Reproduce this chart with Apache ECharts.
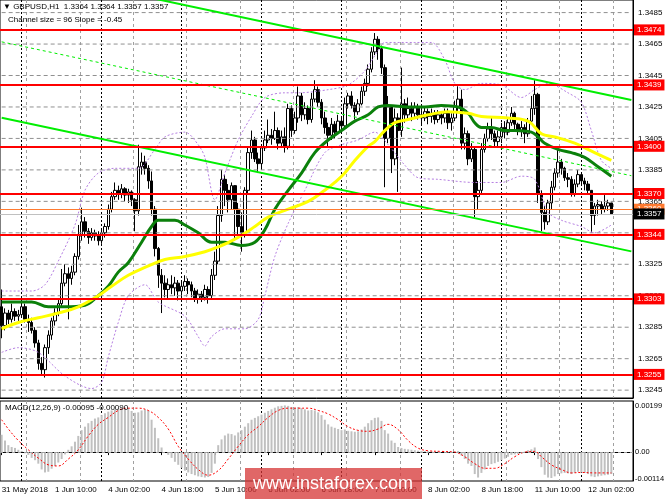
<!DOCTYPE html>
<html>
<head>
<meta charset="utf-8">
<script src="https://cdn.jsdelivr.net/npm/echarts@6.0.0/dist/echarts.min.js"></script>
<style>
html, body { margin: 0; padding: 0; background: #fff; }
#chart { width: 665px; height: 499px; }
</style>
</head>
<body>
<div id="chart"></div>
<script>
var FONT = '"Liberation Sans", "DejaVu Sans", sans-serif';

// time axis labels, one every 16 bars
var tickLabels = ['31 May 2018', '1 Jun 10:00', '4 Jun 02:00', '4 Jun 18:00', '5 Jun 10:00', '6 Jun 02:00',
    '6 Jun 18:00', '7 Jun 10:00', '8 Jun 02:00', '8 Jun 18:00', '11 Jun 10:00', '12 Jun 02:00'];

// H1 candles (open = previous close)
var firstOpen = 1.3298;
var closes = [
    1.3286, 1.3294, 1.3290, 1.3295, 1.3292, 1.3293, 1.3298, 1.3290, 1.3288, 1.3283,
    1.3275, 1.3262, 1.3258, 1.3272, 1.3280, 1.3289, 1.3294, 1.3300, 1.3313, 1.3319,
    1.3316, 1.3320, 1.3330, 1.3344, 1.3352, 1.3346, 1.3342, 1.3345, 1.3343, 1.3340,
    1.3345, 1.3349, 1.3360, 1.3368, 1.3372, 1.3370, 1.3373, 1.3369, 1.3371, 1.3366,
    1.3359, 1.3387, 1.3390, 1.3386, 1.3378, 1.3360, 1.3335, 1.3318, 1.3313, 1.3309,
    1.3312, 1.3310, 1.3313, 1.3308, 1.3311, 1.3314, 1.3312, 1.3308, 1.3303, 1.3306,
    1.3304, 1.3309, 1.3305, 1.3318, 1.3327, 1.3356, 1.3379, 1.3372, 1.3366, 1.3375,
    1.3360, 1.3349, 1.3345, 1.3372, 1.3396, 1.3404, 1.3392, 1.3389, 1.3399, 1.3404,
    1.3407, 1.3405, 1.3410, 1.3402, 1.3406, 1.3400, 1.3424, 1.3410, 1.3418, 1.3432,
    1.3420, 1.3424, 1.3417, 1.3430, 1.3436, 1.3428, 1.3418, 1.3412, 1.3407, 1.3414,
    1.3409, 1.3416, 1.3413, 1.3427, 1.3432, 1.3426, 1.3422, 1.3427, 1.3435, 1.3440,
    1.3449, 1.3460, 1.3468, 1.3462, 1.3450, 1.3405, 1.3425, 1.3392, 1.3418, 1.3410,
    1.3427, 1.3420, 1.3424, 1.3421, 1.3425, 1.3420, 1.3418, 1.3422, 1.3419, 1.3421,
    1.3417, 1.3420, 1.3418, 1.3421, 1.3415, 1.3418, 1.3425, 1.3430, 1.3402, 1.3408,
    1.3392, 1.3398, 1.3368, 1.3372, 1.3398, 1.3405, 1.3411, 1.3408, 1.3403, 1.3406,
    1.3412, 1.3409, 1.3415, 1.3421, 1.3414, 1.3410, 1.3412, 1.3408, 1.3416, 1.3424,
    1.3433, 1.3370, 1.3358, 1.3352, 1.3364, 1.3374, 1.3383, 1.3390, 1.3386, 1.3380,
    1.3379, 1.3370, 1.3376, 1.3382, 1.3378, 1.3376, 1.3372, 1.3356, 1.3362, 1.3363,
    1.3360, 1.3362, 1.3364, 1.3357
];
var highs = [
    1.3309, 1.3297, 1.3296, 1.3300, 1.3297, 1.3296, 1.3303, 1.3300, 1.3293, 1.3291,
    1.3285, 1.3277, 1.3266, 1.3274, 1.3283, 1.3291, 1.3297, 1.3303, 1.3322, 1.3325,
    1.3323, 1.3324, 1.3332, 1.3350, 1.3361, 1.3355, 1.3348, 1.3348, 1.3347, 1.3346,
    1.3347, 1.3351, 1.3363, 1.3371, 1.3377, 1.3375, 1.3376, 1.3374, 1.3373, 1.3372,
    1.3367, 1.3401, 1.3396, 1.3394, 1.3388, 1.3384, 1.3362, 1.3336, 1.3322, 1.3318,
    1.3316, 1.3318, 1.3317, 1.3315, 1.3314, 1.3318, 1.3316, 1.3314, 1.3310, 1.3309,
    1.3308, 1.3312, 1.3311, 1.3322, 1.3333, 1.3362, 1.3385, 1.3382, 1.3376, 1.3377,
    1.3373, 1.3364, 1.3358, 1.3374, 1.3400, 1.3410, 1.3406, 1.3396, 1.3401, 1.3410,
    1.3417, 1.3411, 1.3422, 1.3412, 1.3410, 1.3412, 1.3427, 1.3426, 1.3422, 1.3438,
    1.3434, 1.3428, 1.3426, 1.3434, 1.3442, 1.3438, 1.3430, 1.3422, 1.3415, 1.3418,
    1.3416, 1.3420, 1.3419, 1.3431, 1.3434, 1.3435, 1.3428, 1.3430, 1.3438, 1.3443,
    1.3452, 1.3463, 1.3472, 1.3470, 1.3464, 1.3452, 1.3432, 1.3424, 1.3424, 1.3421,
    1.3450, 1.3430, 1.3431, 1.3428, 1.3428, 1.3427, 1.3423, 1.3425, 1.3424, 1.3424,
    1.3423, 1.3423, 1.3422, 1.3424, 1.3424, 1.3421, 1.3429, 1.3439, 1.3436, 1.3412,
    1.3410, 1.3402, 1.3400, 1.3378, 1.3402, 1.3408, 1.3415, 1.3418, 1.3410, 1.3410,
    1.3415, 1.3416, 1.3418, 1.3425, 1.3422, 1.3415, 1.3416, 1.3414, 1.3418, 1.3432,
    1.3442, 1.3434, 1.3372, 1.3362, 1.3366, 1.3378, 1.3386, 1.3398, 1.3392, 1.3387,
    1.3383, 1.3381, 1.3379, 1.3385, 1.3383, 1.3380, 1.3378, 1.3372, 1.3364, 1.3366,
    1.3365, 1.3369, 1.3366, 1.3364
];
var lows = [
    1.3278, 1.3283, 1.3287, 1.3288, 1.3289, 1.3289, 1.3291, 1.3288, 1.3282, 1.3281,
    1.3272, 1.3258, 1.3254, 1.3253, 1.3268, 1.3277, 1.3286, 1.3292, 1.3298, 1.3311,
    1.3290, 1.3312, 1.3318, 1.3328, 1.3340, 1.3342, 1.3338, 1.3340, 1.3340, 1.3337,
    1.3338, 1.3342, 1.3347, 1.3358, 1.3366, 1.3366, 1.3367, 1.3365, 1.3364, 1.3362,
    1.3346, 1.3356, 1.3382, 1.3382, 1.3373, 1.3356, 1.3330, 1.3310, 1.3294, 1.3304,
    1.3303, 1.3306, 1.3305, 1.3302, 1.3305, 1.3308, 1.3306, 1.3304, 1.3301, 1.3300,
    1.3301, 1.3302, 1.3300, 1.3303, 1.3315, 1.3325, 1.3352, 1.3362, 1.3358, 1.3360,
    1.3340, 1.3343, 1.3333, 1.3342, 1.3370, 1.3392, 1.3390, 1.3383, 1.3386, 1.3397,
    1.3402, 1.3401, 1.3404, 1.3398, 1.3399, 1.3396, 1.3398, 1.3406, 1.3408, 1.3415,
    1.3416, 1.3417, 1.3414, 1.3415, 1.3428, 1.3425, 1.3414, 1.3408, 1.3400, 1.3404,
    1.3405, 1.3408, 1.3410, 1.3412, 1.3424, 1.3424, 1.3417, 1.3420, 1.3426, 1.3432,
    1.3438, 1.3447, 1.3458, 1.3455, 1.3446, 1.3374, 1.3402, 1.3383, 1.3388, 1.3371,
    1.3406, 1.3415, 1.3417, 1.3416, 1.3418, 1.3417, 1.3413, 1.3416, 1.3414, 1.3415,
    1.3414, 1.3415, 1.3414, 1.3415, 1.3411, 1.3410, 1.3416, 1.3422, 1.3398, 1.3398,
    1.3388, 1.3390, 1.3355, 1.3360, 1.3370, 1.3396, 1.3403, 1.3404, 1.3400, 1.3400,
    1.3402, 1.3405, 1.3407, 1.3413, 1.3410, 1.3407, 1.3406, 1.3402, 1.3406, 1.3414,
    1.3420, 1.3364, 1.3346, 1.3347, 1.3350, 1.3360, 1.3372, 1.3380, 1.3382, 1.3378,
    1.3374, 1.3368, 1.3368, 1.3374, 1.3375, 1.3372, 1.3370, 1.3345, 1.3350, 1.3356,
    1.3357, 1.3358, 1.3359, 1.3357
];

// indicator lines: [bar index, price]
var greenMA = [[0, 1.3301], [9, 1.3301], [14, 1.3298], [19, 1.3298], [25, 1.3299], [29, 1.3305], [32, 1.3311],
    [35, 1.3320], [38, 1.3326], [42, 1.3339], [45, 1.3349], [47, 1.3353], [52, 1.3353], [55, 1.3350], [59, 1.3345],
    [63, 1.3339], [67, 1.3339], [72, 1.3337], [76, 1.3339], [79, 1.3347], [82, 1.3360], [86, 1.3372], [90, 1.3383],
    [94, 1.3396], [98, 1.3404], [102, 1.3410], [106, 1.3416], [110, 1.3420], [113, 1.3425], [116, 1.3426],
    [122, 1.3425], [127, 1.3425], [132, 1.3426], [137, 1.3425], [140, 1.3421], [142, 1.3415], [144, 1.3412],
    [147, 1.3412], [151, 1.3410], [154, 1.3410], [159, 1.3409], [161, 1.3406], [163, 1.3402], [167, 1.3398],
    [171, 1.3396], [175, 1.3393], [179, 1.3387], [183, 1.3381]];
var yellowMA = [[0, 1.3284], [5, 1.3288], [11, 1.3291], [17, 1.3294], [23, 1.3298], [29, 1.3305], [33, 1.3311],
    [38, 1.3318], [43, 1.3323], [49, 1.3328], [55, 1.3330], [61, 1.3333], [65, 1.3336], [70, 1.3341], [76, 1.3349],
    [80, 1.3355], [86, 1.3360], [92, 1.3365], [97, 1.3372], [100, 1.3377], [103, 1.3383], [106, 1.3391],
    [110, 1.3400], [112, 1.3403], [115, 1.3410], [118, 1.3415], [122, 1.3417], [128, 1.3420], [134, 1.3422],
    [140, 1.3421], [144, 1.3419], [152, 1.3418], [158, 1.3416], [162, 1.3408], [166, 1.3406], [172, 1.3402],
    [176, 1.3398], [183, 1.3391]];
var bandUpper = [[0, 1.3308], [9, 1.3308], [13, 1.3312], [17, 1.3327], [22, 1.3350], [25, 1.3372], [29, 1.3383],
    [34, 1.3386], [41, 1.3386], [46, 1.3398], [49, 1.3406], [55, 1.3409], [59, 1.3401], [61, 1.3393], [64, 1.3366],
    [67, 1.3383], [71, 1.3404], [75, 1.3419], [79, 1.3431], [85, 1.3434], [89, 1.3434], [98, 1.3436],
    [104, 1.3439], [109, 1.3448], [113, 1.3461], [115, 1.3466], [124, 1.3466], [129, 1.3466], [133, 1.3455],
    [136, 1.3440], [139, 1.3436], [144, 1.3440], [150, 1.3439], [156, 1.3431], [160, 1.3436], [164, 1.3440],
    [170, 1.3434], [174, 1.3428], [177, 1.3410], [180, 1.3391], [183, 1.3386]];
var bandLower = [[0, 1.3269], [5, 1.3272], [11, 1.3269], [19, 1.3254], [27, 1.3246], [30, 1.3250], [32, 1.3266],
    [35, 1.3288], [38, 1.3305], [43, 1.3312], [47, 1.3301], [55, 1.3292], [59, 1.3279], [61, 1.3273], [63, 1.3279],
    [67, 1.3284], [73, 1.3284], [77, 1.3290], [79, 1.3305], [82, 1.3330], [86, 1.3351], [91, 1.3372],
    [97, 1.3396], [102, 1.3401], [107, 1.3404], [112, 1.3409], [116, 1.3401], [121, 1.3388], [125, 1.3380],
    [131, 1.3379], [142, 1.3377], [150, 1.3377], [156, 1.3381], [160, 1.3379], [164, 1.3358], [168, 1.3353],
    [174, 1.3349], [178, 1.3345], [183, 1.3350]];

// regression channel end points
var channelUpper = [[0, 1.35145], [189, 1.34294]];
var channelMid = [[0, 1.34664], [189, 1.33813]];
var channelLower = [[0, 1.34182], [189, 1.33332]];

// horizontal levels
var levels = [1.3474, 1.3439, 1.3400, 1.3370, 1.3344, 1.3303, 1.3255];
var askPrice = 1.3360;
var bidPrice = 1.3357;
var priceGrid = [1.3245, 1.3265, 1.3285, 1.3305, 1.3325, 1.3345, 1.3365, 1.3385, 1.3405, 1.3425, 1.3445, 1.3465, 1.3485];
var dayStarts = [6, 30, 54, 78, 102, 126, 150, 174];

// MACD(12,26,9)
var macdMain = [
    0.00075, 0.00050, 0.00030, 0.00022, 0.00018, 0.00010, 0.00005, -0.00005, -0.00012, -0.00025,
    -0.00035, -0.00050, -0.00075, -0.00088, -0.00085, -0.00072, -0.00060, -0.00045, -0.00030, -0.00010,
    0.00010, 0.00025, 0.00045, 0.00070, 0.00095, 0.00110, 0.00125, 0.00135, 0.00145, 0.00150,
    0.00160, 0.00168, 0.00175, 0.00180, 0.00185, 0.00188, 0.00190, 0.00192, 0.00190, 0.00178,
    0.00170, 0.00172, 0.00180, 0.00185, 0.00178, 0.00140, 0.00105, 0.00060, 0.00020, 0.00000,
    -0.00012, -0.00025, -0.00042, -0.00055, -0.00068, -0.00080, -0.00088, -0.00095, -0.00100, -0.00105,
    -0.00108, -0.00110, -0.00108, -0.00090, -0.00050, 0.00030, 0.00055, 0.00072, 0.00080, 0.00078,
    0.00072, 0.00085, 0.00095, 0.00110, 0.00125, 0.00140, 0.00148, 0.00155, 0.00162, 0.00170,
    0.00178, 0.00185, 0.00192, 0.00198, 0.00200, 0.00202, 0.00200, 0.00195, 0.00192, 0.00195,
    0.00190, 0.00185, 0.00180, 0.00182, 0.00180, 0.00172, 0.00160, 0.00140, 0.00120, 0.00110,
    0.00105, 0.00100, 0.00095, 0.00098, 0.00092, 0.00090, 0.00088, 0.00090, 0.00098, 0.00110,
    0.00125, 0.00138, 0.00148, 0.00150, 0.00135, 0.00095, 0.00080, 0.00050, 0.00040, 0.00022,
    0.00018, 0.00014, 0.00012, 0.00010, 0.00008, 0.00006, 0.00005, 0.00004, 0.00004, 0.00003,
    0.00002, 0.00002, 0.00001, 0.00000, -0.00002, -0.00002, 0.00002, 0.00005, -0.00015, -0.00030,
    -0.00050, -0.00060, -0.00095, -0.00110, -0.00090, -0.00075, -0.00060, -0.00052, -0.00048, -0.00042,
    -0.00035, -0.00028, -0.00020, -0.00012, -0.00010, -0.00008, -0.00005, 0.00002, 0.00008, 0.00012,
    0.00020, -0.00030, -0.00065, -0.00098, -0.00110, -0.00112, -0.00105, -0.00095, -0.00092, -0.00090,
    -0.00092, -0.00095, -0.00090, -0.00085, -0.00088, -0.00090, -0.00095, -0.00105, -0.00108, -0.00105,
    -0.00102, -0.00100, -0.00098, -0.00095
];
var macdSignal = [[0, 0.0014], [2, 0.0010], [5, 0.0005], [8, 0.0001], [11, -0.00026], [14, -0.00055], [17, -0.0006],
    [20, -0.0003], [23, 0.0001], [26, 0.0007], [29, 0.0012], [32, 0.0015], [35, 0.0018], [38, 0.0019], [41, 0.0019],
    [44, 0.0018], [47, 0.0015], [50, 0.0010], [53, 0.00025], [56, -0.0003], [59, -0.00075], [62, -0.0010],
    [65, -0.0008], [68, -0.0003], [71, 0.00025], [74, 0.00075], [77, 0.0011], [80, 0.0015], [83, 0.0018],
    [86, 0.0019], [89, 0.0019], [92, 0.0019], [95, 0.0018], [98, 0.00165], [101, 0.0014], [104, 0.0011],
    [107, 0.00094], [110, 0.0009], [113, 0.0010], [116, 0.0012], [119, 0.00097], [122, 0.0005], [125, 0.00017],
    [128, 0.00006], [132, 0.00003], [136, 0], [139, -0.0002], [142, -0.0005], [145, -0.0007], [148, -0.0007],
    [151, -0.0005], [154, -0.0002], [157, 0], [160, 0.00003], [162, -0.0002], [165, -0.00055], [168, -0.00075],
    [171, -0.0009], [174, -0.00088], [178, -0.0009], [183, -0.0009]];
var macdLevels = [0.00199, 0, -0.00114];
var macdLevelText = ['0.00199', '0.00', '-0.00114'];

var N = 190;
var categories = [];
for (var i = 0; i < N; i++) {
    categories.push(i % 16 === 0 && tickLabels[i / 16] ? tickLabels[i / 16] : '');
}
var candles = closes.map(function (c, i) {
    var o = i === 0 ? firstOpen : closes[i - 1];
    return [o, c, lows[i], highs[i]];
});
var last = candles[candles.length - 1];
var headerText = '\u25BC GBPUSD,H1  ' + [last[0], last[3], last[2], last[1]].map(function (v) { return v.toFixed(4); }).join(' ');

function isGridBar(idx) { return idx % 16 === 8; }
function isLabelBar(idx) { return idx % 16 === 0; }

var levelLines = levels.map(function (v) {
    return { yAxis: v, lineStyle: { color: '#ff0000', width: 2, type: 'solid' },
        label: { backgroundColor: '#ff0000', color: '#ffffff' } };
});
levelLines.push({ yAxis: askPrice, lineStyle: { color: '#ff7a30', width: 1, type: 'solid' },
    label: { backgroundColor: '#ff7a30', color: '#ffffff' } });
levelLines.push({ yAxis: bidPrice, lineStyle: { color: '#c0c0c0', width: 1, type: 'solid' },
    label: { backgroundColor: '#000000', color: '#ffffff' } });

var dayLines = dayStarts.map(function (d) { return { xAxis: d, lineStyle: { color: '#000', type: [2, 2], width: 1 } }; });

var macdMarks = macdLevels.map(function (v, i) {
    return { yAxis: v, label: { formatter: macdLevelText[i] },
        lineStyle: v === 0 ? { color: '#a0a0a0', type: [3, 3], width: 1 } : { color: 'rgba(0,0,0,0)', width: 0 } };
});

// dashed horizontal grid, one line per labelled price
var gridSeries = priceGrid.map(function (v) {
    return { type: 'line', xAxisIndex: 0, yAxisIndex: 0, data: [[0, v], [N - 1, v]], symbol: 'none', silent: true,
        lineStyle: { color: '#909090', width: 1, type: [4, 3] } };
});

var myChart = echarts.init(document.getElementById('chart'));
var option = {
    animation: false,
    backgroundColor: '#ffffff',
    textStyle: { fontFamily: FONT },
    grid: [
        { left: 0, top: 0, width: 633, height: 398, show: true, borderColor: '#000', borderWidth: 1, outerBoundsMode: 'none' },
        { left: 0, top: 401, width: 633, height: 80, show: true, borderColor: '#000', borderWidth: 1, outerBoundsMode: 'none' }
    ],
    xAxis: [
        { gridIndex: 0, type: 'category', data: categories, boundaryGap: true,
            axisLine: { show: true, lineStyle: { color: '#000' } }, axisTick: { show: false }, axisLabel: { show: false },
            splitLine: { show: true, interval: isGridBar, lineStyle: { color: '#a0a0a0', type: [3, 3] } } },
        { gridIndex: 1, type: 'category', data: categories, boundaryGap: true,
            axisLine: { show: true, lineStyle: { color: '#000' } },
            axisTick: { show: true, interval: isLabelBar, length: 3, alignWithLabel: true, lineStyle: { color: '#000' } },
            axisLabel: { interval: isLabelBar, align: 'left', margin: 5, fontSize: 8, color: '#000', fontFamily: FONT },
            splitLine: { show: true, interval: isGridBar, lineStyle: { color: '#a0a0a0', type: [3, 3] } } }
    ],
    yAxis: [
        { gridIndex: 0, type: 'value', position: 'right', min: 1.3240, max: 1.3493, interval: 0.0005,
            axisLine: { show: true, lineStyle: { color: '#000' } }, axisTick: { show: false }, splitLine: { show: false },
            axisLabel: { margin: 5, fontSize: 8, color: '#000', fontFamily: FONT,
                formatter: function (v) {
                    var n = Math.round(v * 10000);
                    return (n - 13245) % 20 === 0 ? (n / 10000).toFixed(4) : '';
                } } },
        { gridIndex: 1, type: 'value', position: 'right', min: -0.00125, max: 0.00221,
            axisLine: { show: true, lineStyle: { color: '#000' } }, axisTick: { show: false },
            axisLabel: { show: false }, splitLine: { show: false } }
    ],
    graphic: [
        { type: 'text', left: 3, top: 3, z: 100, style: { text: headerText, fontSize: 8, fontFamily: FONT, fill: '#000' } },
        { type: 'text', left: 8, top: 16, z: 100, style: { text: 'Channel size = 96 Slope = -0.45', fontSize: 8, fontFamily: FONT, fill: '#000' } },
        { type: 'text', left: 5, top: 404, z: 100, style: { text: 'MACD(12,26,9) -0.00095 -0.00090', fontSize: 8, fontFamily: FONT, fill: '#000' } },
        { type: 'rect', z: 100, shape: { x: 245, y: 468, width: 177, height: 31 }, style: { fill: 'rgba(214,52,52,0.75)' } },
        { type: 'text', z: 101, x: 253, y: 484, style: { text: 'www.instaforex.com', fontSize: 18, fontFamily: FONT,
            fill: '#ffffff', verticalAlign: 'middle' } }
    ],
    series: gridSeries.concat([
        { name: 'BB lower', type: 'line', xAxisIndex: 0, yAxisIndex: 0, data: bandLower, symbol: 'none', smooth: 0.3,
            lineStyle: { color: '#b57ee2', width: 1, type: [2, 2] }, z: 3, silent: true,
            markLine: { silent: true, symbol: 'none', z: 1, precision: 6, label: { show: false }, data: dayLines } },
        { name: 'BB upper', type: 'line', xAxisIndex: 0, yAxisIndex: 0, data: bandUpper, symbol: 'none', smooth: 0.3,
            lineStyle: { color: '#b57ee2', width: 1, type: [2, 2] }, z: 3, silent: true },
        { name: 'GBPUSD', type: 'candlestick', xAxisIndex: 0, yAxisIndex: 0, data: candles, barWidth: 3, z: 2,
            itemStyle: { color: '#ffffff', color0: '#000000', borderColor: '#000000', borderColor0: '#000000', borderWidth: 1 } },
        { name: 'MA green', type: 'line', xAxisIndex: 0, yAxisIndex: 0, data: greenMA, symbol: 'none', smooth: 0.4,
            lineStyle: { color: '#0b800b', width: 3 }, z: 4, silent: true },
        { name: 'MA yellow', type: 'line', xAxisIndex: 0, yAxisIndex: 0, data: yellowMA, symbol: 'none', smooth: 0.4,
            lineStyle: { color: '#ffff00', width: 3 }, z: 4, silent: true },
        { name: 'channel upper', type: 'line', xAxisIndex: 0, yAxisIndex: 0, data: channelUpper, symbol: 'none',
            lineStyle: { color: '#00ee00', width: 2 }, z: 4, silent: true },
        { name: 'channel lower', type: 'line', xAxisIndex: 0, yAxisIndex: 0, data: channelLower, symbol: 'none',
            lineStyle: { color: '#00ee00', width: 2 }, z: 4, silent: true },
        { name: 'channel mid', type: 'line', xAxisIndex: 0, yAxisIndex: 0, data: channelMid, symbol: 'none',
            lineStyle: { color: '#00ee00', width: 1, type: [3, 3] }, z: 4, silent: true,
            markLine: { silent: true, symbol: 'none', precision: 6,
                label: { show: true, position: 'end', distance: 1, fontSize: 8, fontFamily: FONT, padding: [2, 3, 1, 3],
                    formatter: function (p) { return Number(p.value).toFixed(4); } },
                data: levelLines } },
        { name: 'MACD', type: 'bar', xAxisIndex: 1, yAxisIndex: 1, data: macdMain, barWidth: 2,
            itemStyle: { color: '#c0c0c0' }, silent: true,
            markLine: { silent: true, symbol: 'none', precision: 6,
                label: { show: true, position: 'end', distance: 2, fontSize: 7.5, fontFamily: FONT, color: '#000' },
                data: macdMarks } },
        { name: 'Signal', type: 'line', xAxisIndex: 1, yAxisIndex: 1, data: macdSignal, symbol: 'none', smooth: 0.4,
            lineStyle: { color: '#ff0000', width: 1, type: [2, 2] }, silent: true,
            markLine: { silent: true, symbol: 'none', z: 1, precision: 6, label: { show: false }, data: dayLines } }
    ])
};
myChart.setOption(option);
</script>
</body>
</html>
